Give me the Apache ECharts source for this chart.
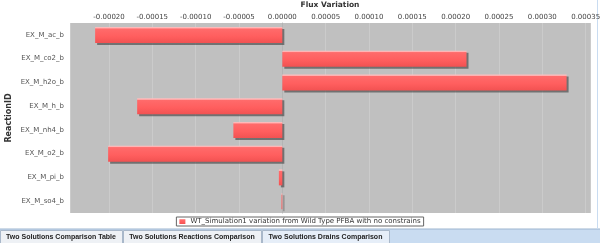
<!DOCTYPE html>
<html>
<head>
<meta charset="utf-8">
<script src="https://cdn.jsdelivr.net/npm/echarts@6/dist/echarts.min.js"></script>
<style>
html,body{margin:0;padding:0;background:#fff;}
#c{width:600px;height:243px;}
</style>
</head>
<body>
<div id="c"></div>
<script>
var categories = ['EX_M_ac_b','EX_M_co2_b','EX_M_h2o_b','EX_M_h_b','EX_M_nh4_b','EX_M_o2_b','EX_M_pi_b','EX_M_so4_b'];
var fluxVariation = [-0.000216, 0.0002125, 0.000328, -0.0001675, -0.0000565, -0.000201, -0.000004, -0.000001];
var seriesName = 'WT_Simulation1 variation from Wild Type PFBA with no constrains';
var tabLabels = ['Two Solutions Comparison Table','Two Solutions Reactions Comparison','Two Solutions Drains Comparison'];
var axisMin = -0.000245, axisMax = 0.000355, tickStep = 0.00005;

var chart = echarts.init(document.getElementById('c'), null, {renderer:'canvas'});
var font = 'DejaVu Sans';
var tabX = [0, 123, 262], tabW = [122, 138, 127];
var graphics = [
  {type:'rect', shape:{x:0,y:229,width:600,height:14}, style:{fill:'#C9DCF1'}, silent:true},
  {type:'line', shape:{x1:0,y1:229,x2:600,y2:229}, style:{stroke:'#9DB4CF',lineWidth:1}, silent:true},
  {type:'line', shape:{x1:597.5,y1:0,x2:597.5,y2:229}, style:{stroke:'#C9DCF1',lineWidth:1}, silent:true}
];
tabLabels.forEach(function(t,i){
  graphics.push({type:'rect', shape:{x:tabX[i]+0.5,y:230.5,width:tabW[i],height:13},
    style:{fill: i===2 ? '#E6EEF8' : '#EEF1F5', stroke:'#A9B8CA', lineWidth:1}, silent:true});
  graphics.push({type:'text', x:tabX[i]+tabW[i]/2, y:237, style:{text:t, fill:'#222', font:'bold 7px "Liberation Sans"', textAlign:'center', textVerticalAlign:'middle'}, silent:true});
});

chart.setOption({
  animation:false,
  backgroundColor:'#fff',
  textStyle:{fontFamily:font},
  grid:{left:70, right:10, top:23, bottom:30, show:true, backgroundColor:'#C0C0C0', borderWidth:0, containLabel:false, outerBoundsMode:'none'},
  legend:{
    show:true, bottom:17, left:'center', data:[seriesName],
    itemWidth:6, itemHeight:5, itemGap:4, padding:[1,3],
    backgroundColor:'#fff', borderColor:'#666', borderWidth:1,
    textStyle:{fontSize:7, color:'#333', fontFamily:font},
    icon:'rect'
  },
  xAxis:{
    type:'value', position:'top', min:axisMin, max:axisMax, splitNumber:12,
    name:'Flux Variation', nameLocation:'middle', nameGap:12,
    nameTextStyle:{fontSize:7.5, color:'#333', fontWeight:'bold', fontFamily:font},
    axisLine:{show:false}, axisTick:{show:false},
    axisLabel:{fontSize:7, color:'#444', margin:2, showMinLabel:false, showMaxLabel:false,
      formatter:function(v){ var k=v/tickStep; if(Math.abs(k-Math.round(k))>1e-6) return ''; return (Math.round(k)*tickStep).toFixed(5); }},
    splitLine:{show:true, lineStyle:{color:'#CBCBCB', width:1}}
  },
  yAxis:{
    type:'category', data:categories, inverse:true,
    name:'ReactionID', nameLocation:'middle', nameRotate:90, nameGap:57, nameMoveOverlap:false,
    nameTextStyle:{fontSize:8, color:'#333', fontWeight:'bold', fontFamily:font},
    axisLine:{show:true, lineStyle:{color:'#B4B4B4'}}, axisTick:{show:false},
    axisLabel:{fontSize:7, color:'#555', margin:6},
    splitLine:{show:false}
  },
  series:[{
    name:seriesName, type:'bar', data:fluxVariation, barWidth:16,
    itemStyle:{
      color:new echarts.graphic.LinearGradient(0,0,0,1,[
        {offset:0,color:'#FFC0C0'},{offset:0.08,color:'#FFB0B0'},{offset:0.12,color:'#FF6B6B'},
        {offset:0.6,color:'#FF5E5E'},{offset:1,color:'#F25252'}]),
      shadowColor:'rgba(60,60,60,0.6)', shadowBlur:0, shadowOffsetX:2, shadowOffsetY:2
    }
  }],
  graphic:graphics
});
</script>
</body>
</html>
